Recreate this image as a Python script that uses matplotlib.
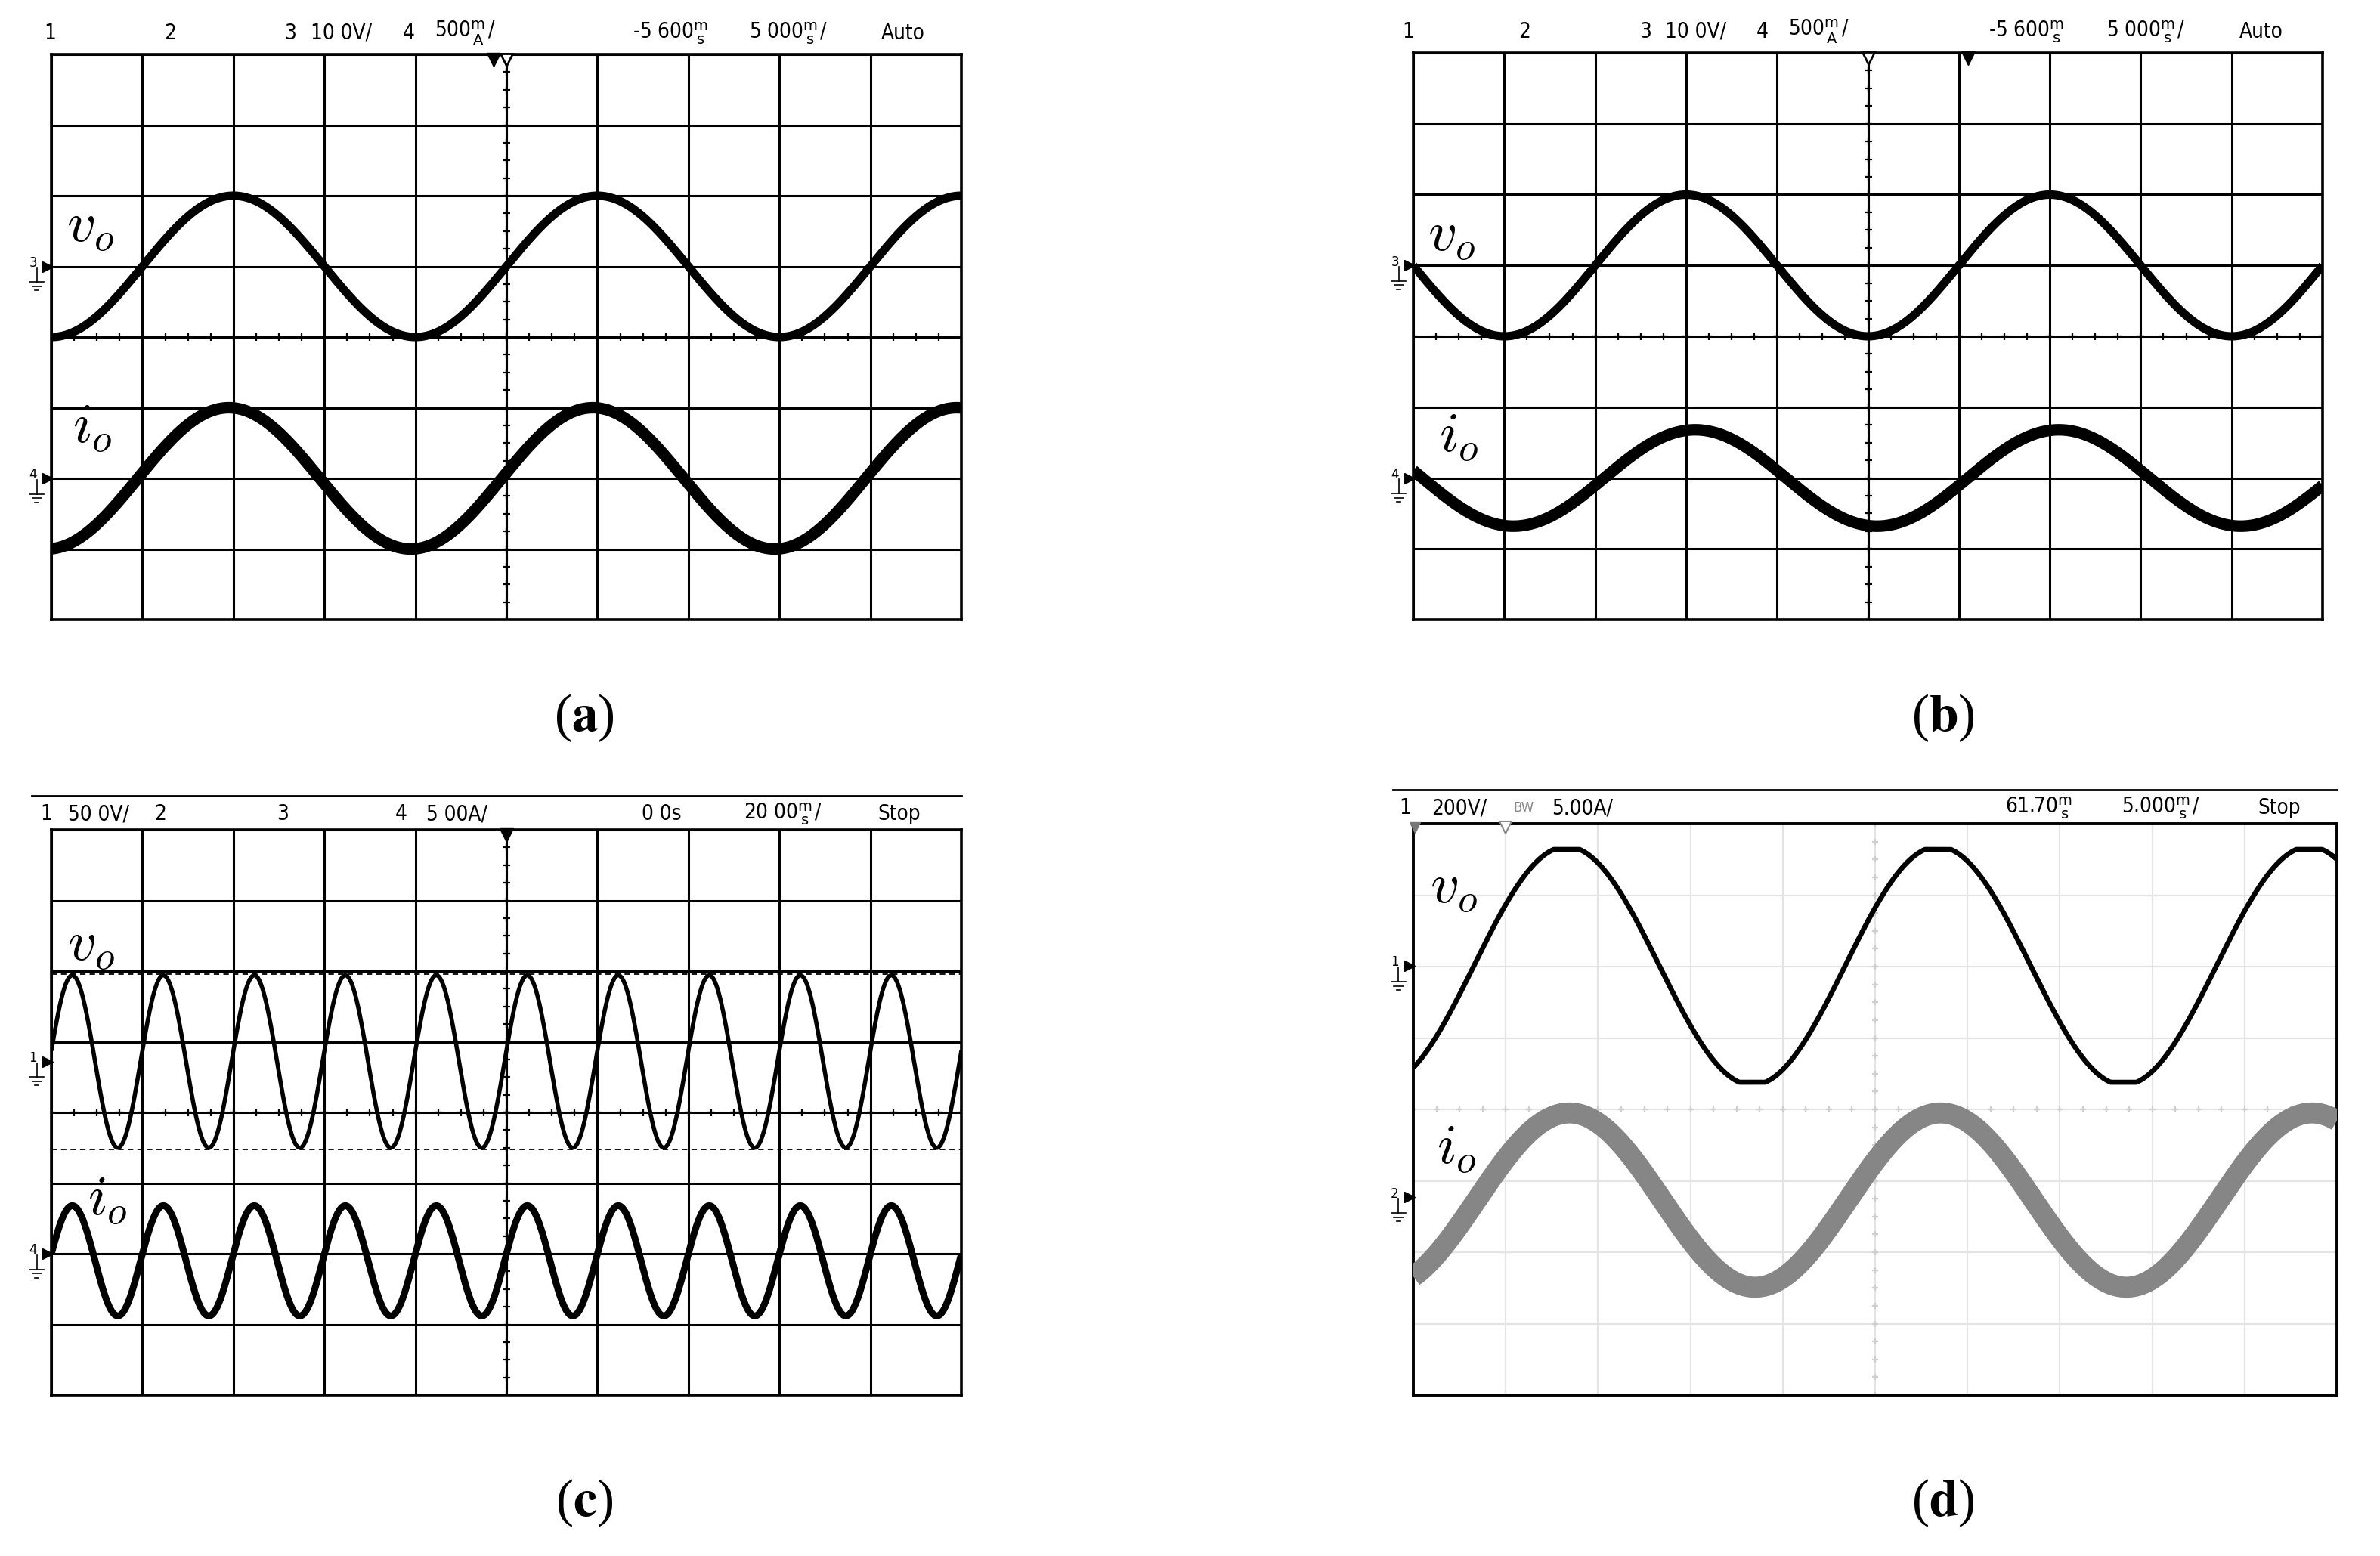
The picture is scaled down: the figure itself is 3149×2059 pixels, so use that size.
import numpy as np
import matplotlib
matplotlib.use('Agg')
import matplotlib.pyplot as plt

# ---- waveforms (units: screen divisions) ----
panel_ids  = ['a', 'b', 'c', 'd']
period_div = [4.0, 4.0, 1.0, 4.02]
vo_mean    = [5.0, 5.0, 4.72, 6.01]
vo_amp     = [1.0, 1.0, 1.22, 1.67]
vo_flat    = [None, None, None, 1.63]      # clipped tops/bottoms in (d)
vo_peak_at = [2.0, 3.0, 0.23, 1.66]
io_mean    = [2.0, 2.0, 1.9, 2.73]
io_amp     = [1.0, 0.68, 0.78, 1.22]
io_peak_at = [1.95, 3.1, 0.23, 1.69]

cursors_c = [5.96, 3.48]                   # dashed cursor levels in (c)

# channel ground markers (level, channel number)
ch_marks = [[(5.0, '3'), (2.0, '4')],
            [(5.0, '3'), (2.0, '4')],
            [(4.72, '1'), (2.0, '4')],
            [(6.01, '1'), (2.77, '2')]]

def stk(a, b):
    return r'$\genfrac{}{}{0}{}{\mathrm{%s}}{\mathrm{%s}}$' % (a, b)

headers = [
    [(-0.08, '1'), (1.24, '2'), (2.56, '3'), (2.85, '10 0V/'), (3.86, '4'),
     (4.21, '500' + stk('m', 'A') + '/'), (6.39, '-5 600' + stk('m', 's')),
     (7.67, '5 000' + stk('m', 's') + '/'), (9.12, 'Auto')],
    [(-0.12, '1'), (1.16, '2'), (2.49, '3'), (2.77, '10 0V/'), (3.77, '4'),
     (4.12, '500' + stk('m', 'A') + '/'), (6.33, '-5 600' + stk('m', 's')),
     (7.62, '5 000' + stk('m', 's') + '/'), (9.08, 'Auto')],
    [(-0.12, '1'), (0.18, '50 0V/'), (1.13, '2'), (2.48, '3'), (3.78, '4'),
     (4.12, '5 00A/'), (6.49, '0 0s'), (7.61, '20 00' + stk('m', 's') + '/'),
     (9.08, 'Stop')],
    [(-0.15, '1'), (0.2, '200V/'), (1.5, '5.00A/'), (6.41, '61.70' + stk('m', 's')),
     (7.67, '5.000' + stk('m', 's') + '/'), (9.14, 'Stop')],
]

# ---- layout (pixels of the 3149x2059 image: left, top, right, bottom of the screen grid) ----
W, H = 3149, 2059
boxes = [(68, 72, 1272, 820), (1870, 70, 3073, 820),
         (68, 1098, 1272, 1846), (1870, 1090, 3092, 1846)]
label_pos = [((0.43, 5.56), (0.45, 2.72)), ((0.42, 5.42), (0.5, 2.58)),
             ((0.44, 6.37), (0.62, 2.76)), ((0.44, 7.1), (0.47, 3.45))]
cap_pos = [(773, 950), (2571, 950), (773, 1989), (2571, 1989)]
vo_lw = [8, 8, 4, 4.8]
io_lw = [11, 11, 6.5, 20]
io_col = ['black', 'black', 'black', '#868686']

hdr_font = ['Liberation Sans Narrow', 'DejaVu Sans']

fig = plt.figure(figsize=(W / 100, H / 100), dpi=100)
fig.patch.set_facecolor('white')

x = np.linspace(0, 10, 3000)

for i, pid in enumerate(panel_ids):
    l, t, r, b = boxes[i]
    ax = fig.add_axes([l / W, 1 - b / H, (r - l) / W, (b - t) / H])
    ax.set_xlim(0, 10)
    ax.set_ylim(0, 8)
    ax.set_xticks(range(11))
    ax.set_yticks(range(9))
    ax.tick_params(length=0, labelbottom=False, labelleft=False)
    scope = pid != 'd'
    if scope:
        ax.grid(True, color='black', lw=2.2)
        for s in ax.spines.values():
            s.set_linewidth(2.6)
        tick_col, tick_ms = 'black', 7
    else:
        ax.grid(True, color='#e4e4e4', lw=1.6)
        for s in ax.spines.values():
            s.set_linewidth(2.8)
        tick_col, tick_ms = '#cfcfcf', 6

    # minor ticks on centre axes
    hx = np.arange(0, 10.01, 0.25)
    ax.plot(hx, np.full_like(hx, 4.0), ls='none', marker='+', color=tick_col,
            ms=tick_ms, mew=1.6, zorder=1.6)
    vy = np.arange(0, 8.01, 0.25)
    ax.plot(np.full_like(vy, 5.0), vy, ls='none', marker='+', color=tick_col,
            ms=tick_ms, mew=1.6, zorder=1.6)
    if scope:
        ax.axvline(5.0, color='black', lw=2.2, zorder=1.6)

    if pid == 'c':
        for c in cursors_c:
            ax.axhline(c, color='black', lw=1.3, ls=(0, (4, 3)), zorder=1.7)

    # traces
    v = vo_mean[i] + vo_amp[i] * np.cos(2 * np.pi * (x - vo_peak_at[i]) / period_div[i])
    if vo_flat[i] is not None:
        v = np.clip(v, vo_mean[i] - vo_flat[i], vo_mean[i] + vo_flat[i])
    cur = io_mean[i] + io_amp[i] * np.cos(2 * np.pi * (x - io_peak_at[i]) / period_div[i])
    ax.plot(x, cur, color=io_col[i], lw=io_lw[i], solid_capstyle='butt', zorder=3)
    ax.plot(x, v, color='black', lw=vo_lw[i], solid_capstyle='butt', zorder=4)

    # labels
    (vx, vyy), (ix, iy) = label_pos[i]
    ax.text(vx, vyy, r'$v_o$', fontsize=54, ha='center', va='center',
            math_fontfamily='cm', zorder=6)
    ax.text(ix, iy, r'$i_o$', fontsize=54, ha='center', va='center',
            math_fontfamily='cm', zorder=6)

    # header line
    hdr_y = 8.3 if i < 2 else 8.22
    for hx_, txt in headers[i]:
        ax.text(hx_, hdr_y, txt, fontsize=20, family=hdr_font, fontstretch='condensed',
                math_fontfamily='dejavusans', ha='left', va='center', clip_on=False)
    if pid == 'd':
        ax.text(1.08, hdr_y, 'BW', fontsize=12, color='#8a8a8a', family=hdr_font,
                ha='left', va='center', clip_on=False)
    if i >= 2:
        ax.plot([-0.22, 10.0], [8.48, 8.48], color='black', lw=2, clip_on=False)

    # trigger markers on the top edge
    if pid == 'a':
        ax.plot([4.86], [7.93], marker='v', color='black', ms=13, clip_on=False, zorder=7)
        ax.plot([5.0], [7.93], marker='v', mfc='white', mec='black', mew=2, ms=12, clip_on=False, zorder=7)
    elif pid == 'b':
        ax.plot([5.0], [7.93], marker='v', mfc='white', mec='black', mew=2, ms=12, clip_on=False, zorder=7)
        ax.plot([6.1], [7.93], marker='v', color='black', ms=13, clip_on=False, zorder=7)
    elif pid == 'c':
        ax.plot([5.0], [7.93], marker='v', color='black', ms=13, clip_on=False, zorder=7)
    else:
        ax.plot([0.02], [7.95], marker='v', color='#777777', ms=10, clip_on=False, zorder=7)
        ax.plot([1.0], [7.95], marker='v', mfc='white', mec='#888888', mew=1.5, ms=12, clip_on=False, zorder=7)

    # channel ground markers at the left edge
    for lev, ch in ch_marks[i]:
        ax.text(-0.2, lev + 0.05, ch, fontsize=12, ha='center', va='center', clip_on=False)
        ax.plot([-0.04], [lev], marker='>', color='black', ms=10, clip_on=False, zorder=7)
        ax.plot([-0.16, -0.16], [lev - 0.02, lev - 0.22], color='black', lw=1.2, clip_on=False)
        ax.plot([-0.24, -0.08], [lev - 0.22, lev - 0.22], color='black', lw=1.2, clip_on=False)
        ax.plot([-0.21, -0.11], [lev - 0.28, lev - 0.28], color='black', lw=1.2, clip_on=False)
        ax.plot([-0.18, -0.14], [lev - 0.34, lev - 0.34], color='black', lw=1.2, clip_on=False)

    cx, cy = cap_pos[i]
    fig.text(cx / W, 1 - cy / H, r'($\mathbf{%s}$)' % pid, fontsize=50, ha='center', va='center',
             family='Liberation Serif', math_fontfamily='stix')

fig.savefig('out.png', dpi=100, facecolor='white')
